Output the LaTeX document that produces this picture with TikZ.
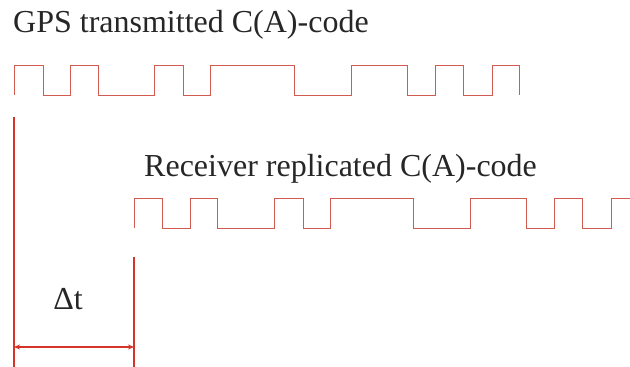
\documentclass[tikz,border=0pt]{standalone}
\usepackage{fontspec}
\setmainfont{Liberation Serif}
\usetikzlibrary{arrows.meta}
\definecolor{codered}{RGB}{210,90,80}
\definecolor{markred}{RGB}{214,52,40}
\tikzset{
  wave/.style={draw=codered, line width=1pt, line join=miter},
  marker/.style={draw=markred, line width=1.2pt},
  label/.style={font=\fontsize{32}{38}\selectfont, inner sep=0pt, anchor=base west, text=black!85},
  dtarrow/.style={marker, {Stealth[length=6pt,width=5pt]}-{Stealth[length=6pt,width=5pt]}}
}
\begin{document}
\begin{tikzpicture}[x=1pt,y=-1pt]
\useasboundingbox (0,0) rectangle (630,367);
% labels
\node[label] (gps) at (13,32) {GPS transmitted C(A)-code};
\node[label] (rcv) at (144,176) {Receiver replicated C(A)-code};
% transmitted code
\draw[wave] (14,95) -- (14,65) -- (43,65) -- (43,95) -- (70,95) -- (70,65) -- (98,65) -- (98,95)
  -- (154,95) -- (154,65) -- (183,65) -- (183,95) -- (210,95) -- (210,65) -- (294,65) -- (294,95)
  -- (351,95) -- (351,65) -- (407,65) -- (407,95) -- (435,95) -- (435,65) -- (463,65) -- (463,95)
  -- (492,95) -- (492,65) -- (519,65) -- (519,95);
% replicated code
\draw[wave] (134,228) -- (134,198) -- (162,198) -- (162,228) -- (190,228) -- (190,198) -- (217,198) -- (217,228)
  -- (274,228) -- (274,198) -- (303,198) -- (303,228) -- (330,228) -- (330,198) -- (413,198) -- (413,228)
  -- (470,228) -- (470,198) -- (526,198) -- (526,228) -- (554,228) -- (554,198) -- (582,198) -- (582,228)
  -- (611,228) -- (611,198) -- (630,198);
% delta t markers
\coordinate (lt) at (14,117);
\coordinate (lb) at (14,367);
\coordinate (rt) at (134,257);
\coordinate (rb) at (134,367);
\coordinate (al) at (14,347);
\coordinate (ar) at (134,347);
\draw[marker] (lt) -- (lb);
\draw[marker] (rt) -- (rb);
\draw[dtarrow] (al) -- (ar);
\node[font=\fontsize{32}{38}\selectfont, inner sep=0pt, anchor=base, text=black!85] (dt) at (68,309) {Δt};
\end{tikzpicture}
\end{document}
